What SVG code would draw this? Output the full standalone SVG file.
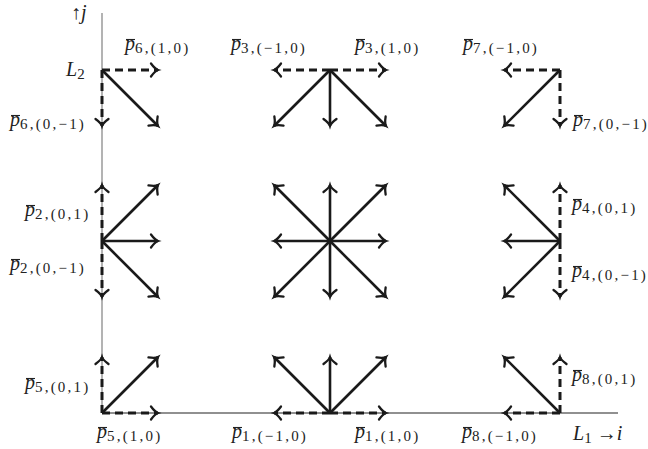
<svg xmlns="http://www.w3.org/2000/svg" width="648" height="449" viewBox="0 0 648 449">
<defs>
<marker id="ah" markerUnits="userSpaceOnUse" markerWidth="20" markerHeight="20" refX="0" refY="0" viewBox="-10 -10 20 20" orient="auto" overflow="visible">
<path d="M-7,-6.5 Q-3,-1 0,0 Q-3,1 -7,6.5" fill="none" stroke="#1a1a1a" stroke-width="2.3" stroke-dasharray="none" stroke-linecap="round"/>
</marker>
</defs>
<style>
.s{stroke:#1a1a1a;stroke-width:2.6;fill:none;marker-end:url(#ah)}
.d{stroke:#1a1a1a;stroke-width:3;fill:none;stroke-dasharray:8 5;marker-end:url(#ah)}
.m{font-family:"Liberation Serif","Times New Roman",serif;font-size:20px;fill:#222}
.it{font-style:italic}
.sub{font-size:15px;letter-spacing:2.2px}
.bar{stroke:#222;stroke-width:1.1}
</style>
<g id="axes">
<line x1="102" y1="13" x2="102" y2="413" stroke="#8a8a8a" stroke-width="1.3"/>
<line x1="102" y1="413" x2="618" y2="413" stroke="#222" stroke-width="1.2"/>
</g>
<g id="connectors">
<line class="d" x1="102" y1="70" x2="158" y2="70"/>
<line class="d" x1="102" y1="70" x2="102" y2="126"/>
<line class="s" x1="102" y1="70" x2="158" y2="126"/>
<line class="d" x1="330" y1="70" x2="274" y2="70"/>
<line class="d" x1="330" y1="70" x2="386" y2="70"/>
<line class="s" x1="330" y1="70" x2="274" y2="126"/>
<line class="s" x1="330" y1="70" x2="330" y2="126"/>
<line class="s" x1="330" y1="70" x2="386" y2="126"/>
<line class="d" x1="560" y1="70" x2="504" y2="70"/>
<line class="d" x1="560" y1="70" x2="560" y2="126"/>
<line class="s" x1="560" y1="70" x2="504" y2="126"/>
<line class="d" x1="102" y1="241" x2="102" y2="185"/>
<line class="d" x1="102" y1="241" x2="102" y2="297"/>
<line class="s" x1="102" y1="241" x2="158" y2="185"/>
<line class="s" x1="102" y1="241" x2="158" y2="241"/>
<line class="s" x1="102" y1="241" x2="158" y2="297"/>
<line class="s" x1="330" y1="241" x2="274" y2="185"/>
<line class="s" x1="330" y1="241" x2="330" y2="185"/>
<line class="s" x1="330" y1="241" x2="386" y2="185"/>
<line class="s" x1="330" y1="241" x2="274" y2="241"/>
<line class="s" x1="330" y1="241" x2="386" y2="241"/>
<line class="s" x1="330" y1="241" x2="274" y2="297"/>
<line class="s" x1="330" y1="241" x2="330" y2="297"/>
<line class="s" x1="330" y1="241" x2="386" y2="297"/>
<line class="d" x1="560" y1="241" x2="560" y2="185"/>
<line class="d" x1="560" y1="241" x2="560" y2="297"/>
<line class="s" x1="560" y1="241" x2="504" y2="185"/>
<line class="s" x1="560" y1="241" x2="504" y2="241"/>
<line class="s" x1="560" y1="241" x2="504" y2="297"/>
<line class="d" x1="102" y1="413" x2="102" y2="357"/>
<line class="d" x1="102" y1="413" x2="158" y2="413"/>
<line class="s" x1="102" y1="413" x2="158" y2="357"/>
<line class="d" x1="330" y1="413" x2="274" y2="413"/>
<line class="d" x1="330" y1="413" x2="386" y2="413"/>
<line class="s" x1="330" y1="413" x2="274" y2="357"/>
<line class="s" x1="330" y1="413" x2="330" y2="357"/>
<line class="s" x1="330" y1="413" x2="386" y2="357"/>
<line class="d" x1="560" y1="413" x2="504" y2="413"/>
<line class="d" x1="560" y1="413" x2="560" y2="357"/>
<line class="s" x1="560" y1="413" x2="504" y2="357"/>
</g>
<g id="labels">
<text class="m" x="71" y="19">↑<tspan class="it">j</tspan></text>
<text class="m" x="66" y="76"><tspan class="it">L</tspan><tspan class="sub" dy="3">2</tspan></text>
<text class="m" x="573" y="440"><tspan class="it">L</tspan><tspan class="sub" dy="3">1</tspan><tspan dy="-3" dx="3">→</tspan><tspan class="it">i</tspan></text>
<g id="lbl-p6-10"><text class="m" x="125" y="50"><tspan class="it">p</tspan><tspan class="sub" dy="3">6,(1,0)</tspan></text><line class="bar" x1="126" y1="39.5" x2="135" y2="39.5"/></g>
<g id="lbl-p6-0m1"><text class="m" x="10" y="126"><tspan class="it">p</tspan><tspan class="sub" dy="3">6,(0,−1)</tspan></text><line class="bar" x1="11" y1="115.5" x2="20" y2="115.5"/></g>
<g id="lbl-p3-m10"><text class="m" x="231" y="50"><tspan class="it">p</tspan><tspan class="sub" dy="3">3,(−1,0)</tspan></text><line class="bar" x1="232" y1="39.5" x2="241" y2="39.5"/></g>
<g id="lbl-p3-10"><text class="m" x="355" y="50"><tspan class="it">p</tspan><tspan class="sub" dy="3">3,(1,0)</tspan></text><line class="bar" x1="356" y1="39.5" x2="365" y2="39.5"/></g>
<g id="lbl-p7-m10"><text class="m" x="463" y="50"><tspan class="it">p</tspan><tspan class="sub" dy="3">7,(−1,0)</tspan></text><line class="bar" x1="464" y1="39.5" x2="473" y2="39.5"/></g>
<g id="lbl-p7-0m1"><text class="m" x="573" y="126"><tspan class="it">p</tspan><tspan class="sub" dy="3">7,(0,−1)</tspan></text><line class="bar" x1="574" y1="115.5" x2="583" y2="115.5"/></g>
<g id="lbl-p2-01"><text class="m" x="25" y="216"><tspan class="it">p</tspan><tspan class="sub" dy="3">2,(0,1)</tspan></text><line class="bar" x1="26" y1="205.5" x2="35" y2="205.5"/></g>
<g id="lbl-p2-0m1"><text class="m" x="10" y="270"><tspan class="it">p</tspan><tspan class="sub" dy="3">2,(0,−1)</tspan></text><line class="bar" x1="11" y1="259.5" x2="20" y2="259.5"/></g>
<g id="lbl-p4-01"><text class="m" x="572" y="210"><tspan class="it">p</tspan><tspan class="sub" dy="3">4,(0,1)</tspan></text><line class="bar" x1="573" y1="199.5" x2="582" y2="199.5"/></g>
<g id="lbl-p4-0m1"><text class="m" x="572" y="277"><tspan class="it">p</tspan><tspan class="sub" dy="3">4,(0,−1)</tspan></text><line class="bar" x1="573" y1="266.5" x2="582" y2="266.5"/></g>
<g id="lbl-p5-01"><text class="m" x="25" y="389"><tspan class="it">p</tspan><tspan class="sub" dy="3">5,(0,1)</tspan></text><line class="bar" x1="26" y1="378.5" x2="35" y2="378.5"/></g>
<g id="lbl-p5-10"><text class="m" x="97" y="438"><tspan class="it">p</tspan><tspan class="sub" dy="3">5,(1,0)</tspan></text><line class="bar" x1="98" y1="427.5" x2="107" y2="427.5"/></g>
<g id="lbl-p1-m10"><text class="m" x="232" y="438"><tspan class="it">p</tspan><tspan class="sub" dy="3">1,(−1,0)</tspan></text><line class="bar" x1="233" y1="427.5" x2="242" y2="427.5"/></g>
<g id="lbl-p1-10"><text class="m" x="355" y="438"><tspan class="it">p</tspan><tspan class="sub" dy="3">1,(1,0)</tspan></text><line class="bar" x1="356" y1="427.5" x2="365" y2="427.5"/></g>
<g id="lbl-p8-m10"><text class="m" x="462" y="438"><tspan class="it">p</tspan><tspan class="sub" dy="3">8,(−1,0)</tspan></text><line class="bar" x1="463" y1="427.5" x2="472" y2="427.5"/></g>
<g id="lbl-p8-01"><text class="m" x="572" y="381"><tspan class="it">p</tspan><tspan class="sub" dy="3">8,(0,1)</tspan></text><line class="bar" x1="573" y1="370.5" x2="582" y2="370.5"/></g>
</g>
</svg>
